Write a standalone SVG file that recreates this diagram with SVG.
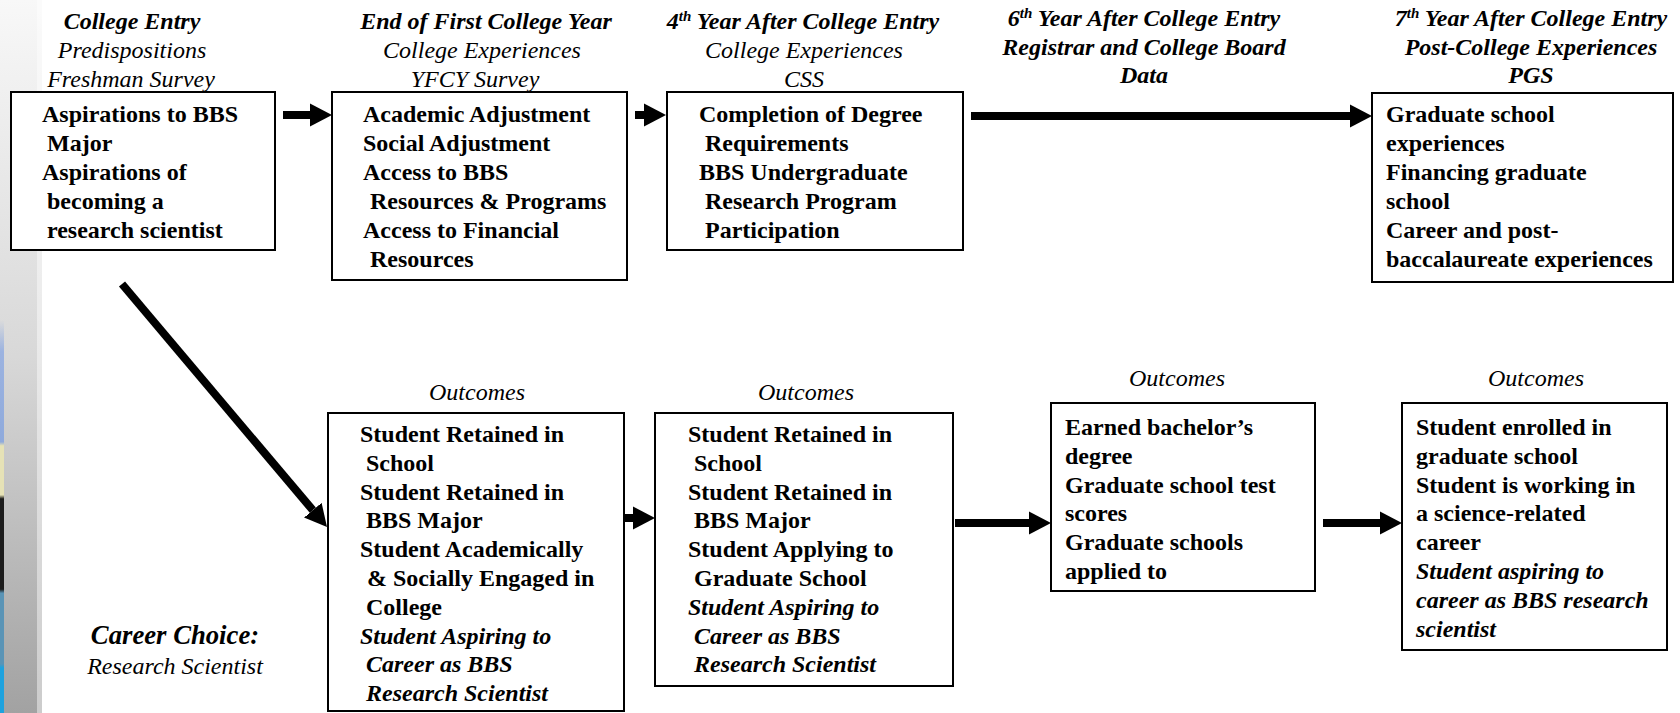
<svg xmlns="http://www.w3.org/2000/svg" width="1680" height="713" viewBox="0 0 1680 713">
  <style>
    .t { font-family: "Liberation Serif", "Times New Roman", serif; font-size: 24px; fill: #000; }
    .b { font-weight: bold; }
    .i { font-style: italic; }
    .box { fill: #fff; stroke: #000; stroke-width: 2; }
    .conn { stroke: #000; stroke-width: 8; fill: none; marker-end: url(#head); }
    .sup { font-size: 15px; }
  </style>
  <defs>
    <linearGradient id="sidebarShade" x1="0" y1="0" x2="0" y2="1">
      <stop offset="0" stop-color="#f8f8f8"/>
      <stop offset="0.5" stop-color="#d8d8d8"/>
      <stop offset="1" stop-color="#a2a2a2"/>
    </linearGradient>
    <linearGradient id="edgeBand" x1="0" y1="0" x2="0" y2="1">
      <stop offset="0" stop-color="#9cb3e0" stop-opacity="0"/>
      <stop offset="0.08" stop-color="#9cb3e0"/>
      <stop offset="0.31" stop-color="#8faadc"/>
      <stop offset="0.32" stop-color="#e6e2b6"/>
      <stop offset="0.445" stop-color="#e6e2b6"/>
      <stop offset="0.455" stop-color="#1c1c1c"/>
      <stop offset="0.685" stop-color="#1c1c1c"/>
      <stop offset="0.695" stop-color="#5a94b6"/>
      <stop offset="0.875" stop-color="#5a94b6"/>
      <stop offset="0.885" stop-color="#1ea2de"/>
      <stop offset="1" stop-color="#1ea2de"/>
    </linearGradient>
    <marker id="head" markerUnits="userSpaceOnUse" viewBox="0 -12 22 24" markerWidth="22" markerHeight="24" refX="0" refY="0" orient="auto">
      <path d="M0,-11.5 L22,0 L0,11.5 Z" fill="#000"/>
    </marker>
  </defs>

  <!-- page background and left sidebar -->
  <rect x="0" y="0" width="1680" height="713" fill="#fff"/>
  <rect x="0" y="0" width="42" height="713" fill="url(#sidebarShade)"/>
  <rect x="37" y="0" width="5" height="713" fill="#fff" opacity="0.45"/>
  <rect x="0" y="320" width="4" height="393" fill="url(#edgeBand)"/>

  <!-- column headings -->
  <g id="heading-entry">
    <text class="t b i" x="132" y="29" text-anchor="middle">College Entry</text>
    <text class="t i" x="132" y="58" text-anchor="middle">Predispositions</text>
    <text class="t i" x="131" y="87" text-anchor="middle">Freshman Survey</text>
  </g>
  <g id="heading-first-year">
    <text class="t b i" x="486" y="29" text-anchor="middle">End of First College Year</text>
    <text class="t i" x="482" y="58" text-anchor="middle">College Experiences</text>
    <text class="t i" x="475" y="87" text-anchor="middle">YFCY Survey</text>
  </g>
  <g id="heading-fourth-year">
    <text class="t b i" x="803" y="29" text-anchor="middle">4<tspan class="sup" dy="-8">th</tspan><tspan dy="8"> Year After College Entry</tspan></text>
    <text class="t i" x="804" y="58" text-anchor="middle">College Experiences</text>
    <text class="t i" x="804" y="87" text-anchor="middle">CSS</text>
  </g>
  <g id="heading-sixth-year">
    <text class="t b i" x="1144" y="26" text-anchor="middle">6<tspan class="sup" dy="-8">th</tspan><tspan dy="8"> Year After College Entry</tspan></text>
    <text class="t b i" x="1144" y="54.5" text-anchor="middle">Registrar and College Board</text>
    <text class="t b i" x="1144" y="83" text-anchor="middle">Data</text>
  </g>
  <g id="heading-seventh-year">
    <text class="t b i" x="1531" y="26" text-anchor="middle">7<tspan class="sup" dy="-8">th</tspan><tspan dy="8"> Year After College Entry</tspan></text>
    <text class="t b i" x="1531" y="54.5" text-anchor="middle">Post-College Experiences</text>
    <text class="t b i" x="1531" y="83" text-anchor="middle">PGS</text>
  </g>

  <!-- top row -->
  <g id="predispositions">
    <rect class="box" x="11" y="92" width="264" height="158"/>
    <text class="t b" x="42" y="122">Aspirations to BBS</text>
    <text class="t b" x="47" y="150.9">Major</text>
    <text class="t b" x="42" y="179.8">Aspirations of</text>
    <text class="t b" x="47" y="208.7">becoming a</text>
    <text class="t b" x="47" y="237.6">research scientist</text>
  </g>
  <g id="first-year-experiences">
    <rect class="box" x="332" y="92" width="295" height="188"/>
    <text class="t b" x="363" y="122">Academic Adjustment</text>
    <text class="t b" x="363" y="150.9">Social Adjustment</text>
    <text class="t b" x="363" y="179.8">Access to BBS</text>
    <text class="t b" x="370" y="208.7">Resources &amp; Programs</text>
    <text class="t b" x="363" y="237.6">Access to Financial</text>
    <text class="t b" x="370" y="266.5">Resources</text>
  </g>
  <g id="fourth-year-experiences">
    <rect class="box" x="667" y="92" width="296" height="158"/>
    <text class="t b" x="699" y="122">Completion of Degree</text>
    <text class="t b" x="705" y="150.9">Requirements</text>
    <text class="t b" x="699" y="179.8">BBS Undergraduate</text>
    <text class="t b" x="705" y="208.7">Research Program</text>
    <text class="t b" x="705" y="237.6">Participation</text>
  </g>
  <g id="post-college-experiences">
    <rect class="box" x="1372" y="93" width="301" height="189"/>
    <text class="t b" x="1386" y="122">Graduate school</text>
    <text class="t b" x="1386" y="150.9">experiences</text>
    <text class="t b" x="1386" y="179.8">Financing graduate</text>
    <text class="t b" x="1386" y="208.7">school</text>
    <text class="t b" x="1386" y="237.6">Career and post-</text>
    <text class="t b" x="1386" y="266.5">baccalaureate experiences</text>
  </g>

  <!-- bottom row: outcomes -->
  <g id="outcomes-first-year">
    <text class="t i" x="477" y="400" text-anchor="middle">Outcomes</text>
    <rect class="box" x="328" y="413" width="296" height="298"/>
    <text class="t b" x="360" y="442">Student Retained in</text>
    <text class="t b" x="366" y="470.8">School</text>
    <text class="t b" x="360" y="499.6">Student Retained in</text>
    <text class="t b" x="366" y="528.4">BBS Major</text>
    <text class="t b" x="360" y="557.2">Student Academically</text>
    <text class="t b" x="367" y="586">&amp; Socially Engaged in</text>
    <text class="t b" x="366" y="614.8">College</text>
    <text class="t b i" x="360" y="643.6">Student Aspiring to</text>
    <text class="t b i" x="366" y="672.4">Career as BBS</text>
    <text class="t b i" x="366" y="701.2">Research Scientist</text>
  </g>
  <g id="outcomes-fourth-year">
    <text class="t i" x="806" y="400" text-anchor="middle">Outcomes</text>
    <rect class="box" x="655" y="413" width="298" height="273"/>
    <text class="t b" x="688" y="442">Student Retained in</text>
    <text class="t b" x="694" y="470.8">School</text>
    <text class="t b" x="688" y="499.6">Student Retained in</text>
    <text class="t b" x="694" y="528.4">BBS Major</text>
    <text class="t b" x="688" y="557.2">Student Applying to</text>
    <text class="t b" x="694" y="586">Graduate School</text>
    <text class="t b i" x="688" y="614.8">Student Aspiring to</text>
    <text class="t b i" x="694" y="643.6">Career as BBS</text>
    <text class="t b i" x="694" y="672.4">Research Scientist</text>
  </g>
  <g id="outcomes-sixth-year">
    <text class="t i" x="1177" y="386" text-anchor="middle">Outcomes</text>
    <rect class="box" x="1051" y="403" width="264" height="188"/>
    <text class="t b" x="1065" y="435">Earned bachelor’s</text>
    <text class="t b" x="1065" y="463.8">degree</text>
    <text class="t b" x="1065" y="492.6">Graduate school test</text>
    <text class="t b" x="1065" y="521.4">scores</text>
    <text class="t b" x="1065" y="550.2">Graduate schools</text>
    <text class="t b" x="1065" y="579">applied to</text>
  </g>
  <g id="outcomes-seventh-year">
    <text class="t i" x="1536" y="386" text-anchor="middle">Outcomes</text>
    <rect class="box" x="1402" y="403" width="265" height="247"/>
    <text class="t b" x="1416" y="435">Student enrolled in</text>
    <text class="t b" x="1416" y="463.8">graduate school</text>
    <text class="t b" x="1416" y="492.6">Student is working in</text>
    <text class="t b" x="1416" y="521.4">a science-related</text>
    <text class="t b" x="1416" y="550.2">career</text>
    <text class="t b i" x="1416" y="579">Student aspiring to</text>
    <text class="t b i" x="1416" y="607.8">career as BBS research</text>
    <text class="t b i" x="1416" y="636.6">scientist</text>
  </g>

  <g id="career-choice">
    <text class="t b i" x="175" y="644" text-anchor="middle" style="font-size:26.7px">Career Choice:</text>
    <text class="t i" x="175" y="674" text-anchor="middle">Research Scientist</text>
  </g>

  <!-- connectors: each line stops at the arrowhead base -->
  <g id="connectors">
    <line class="conn" x1="283" y1="115" x2="310" y2="115"/>
    <line class="conn" x1="635" y1="115" x2="644" y2="115"/>
    <line class="conn" x1="971" y1="116" x2="1350" y2="116"/>
    <line class="conn" x1="122" y1="284" x2="312.8" y2="510.2"/>
    <line class="conn" x1="625" y1="518" x2="633" y2="518"/>
    <line class="conn" x1="955" y1="523" x2="1029" y2="523"/>
    <line class="conn" x1="1323" y1="523" x2="1380" y2="523"/>
  </g>
</svg>
